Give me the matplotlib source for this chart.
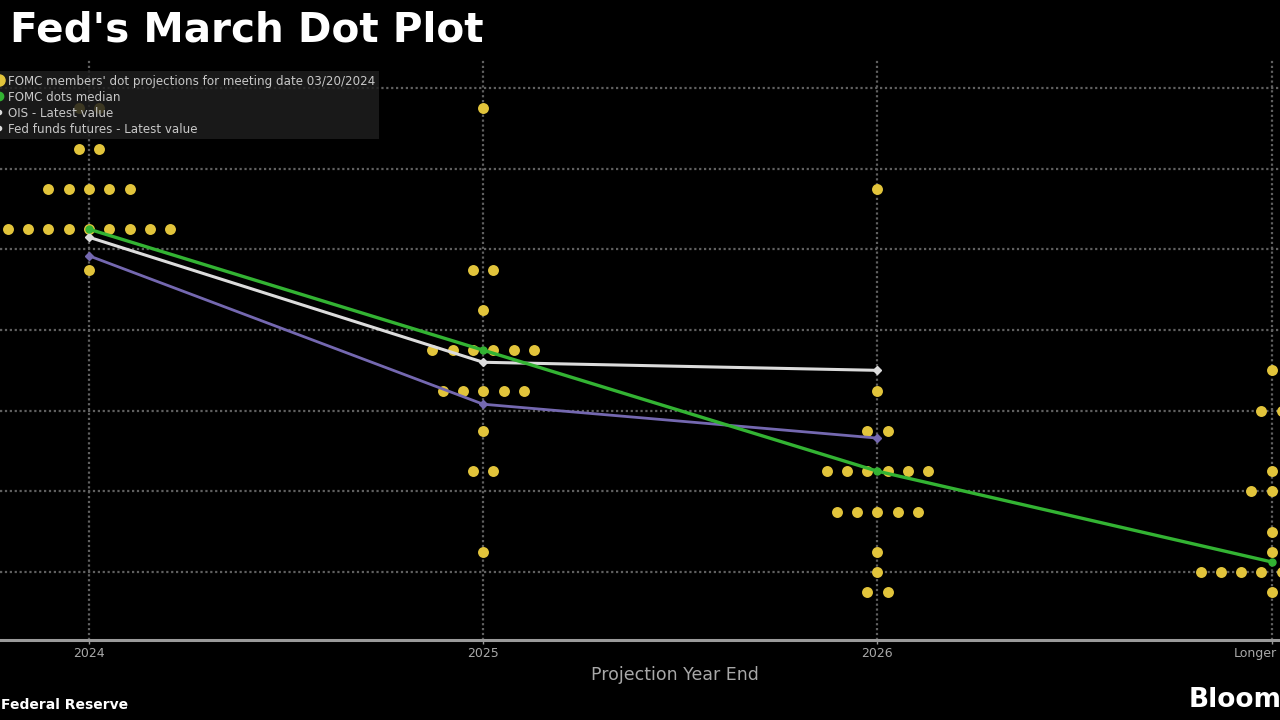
import numpy as np
import matplotlib
matplotlib.use("Agg")
import matplotlib.pyplot as plt
import matplotlib.transforms as mtransforms
from matplotlib.lines import Line2D

# ---- data ----
categories = ["2024", "2025", "2026", "Longer"]

# FOMC dot projections: rate level -> number of participants
dots_2024 = {5.375: 2, 5.125: 2, 4.875: 5, 4.625: 9, 4.375: 1}
dots_2025 = {5.375: 1, 4.375: 2, 4.125: 1, 3.875: 6, 3.625: 5, 3.375: 1, 3.125: 2, 2.625: 1}
dots_2026 = {4.875: 1, 3.625: 1, 3.375: 2, 3.125: 6, 2.875: 5, 2.625: 1, 2.5: 1, 2.375: 2}
dots_longer = {3.75: 1, 3.5: 2, 3.125: 1, 3.0: 3, 2.75: 1, 2.625: 1, 2.5: 8, 2.375: 1}
all_dots = [dots_2024, dots_2025, dots_2026, dots_longer]

median = [4.625, 3.875, 3.125, 2.5625]
ois = [4.575, 3.80, 3.75]
futures = [4.46, 3.54, 3.33]

yellow = "#e2c43b"
green = "#33b333"
white = "#dcdcdc"
purple = "#7468b0"
grey = "#a8a8a8"

fig = plt.figure(figsize=(12.8, 7.2), dpi=100, facecolor="black")
ax = fig.add_axes([0, 80 / 720, 1, 580 / 720], facecolor="black")

step = 0.0515   # horizontal spacing between dots in the same row
for i, d in enumerate(all_dots):
    xs, ys = [], []
    for rate, n in d.items():
        for k in range(n):
            xs.append(i + (k - (n - 1) / 2) * step)
            ys.append(rate)
    ax.scatter(xs, ys, s=62, color=yellow, zorder=3, linewidths=0)

x = np.arange(len(categories))
ax.plot(x[:3], futures, color=purple, lw=2, marker="D", ms=4, zorder=4)
ax.plot(x[:3], ois, color=white, lw=2.2, marker="D", ms=4, zorder=5)
ax.plot(x, median, color=green, lw=2.4, marker="o", ms=5, zorder=6)

ax.set_xlim(-89 / 394.2, (1280 - 89) / 394.2)
ax.set_ylim(2.0785, 5.6736)

# dotted grid
for yv in np.arange(2.5, 5.51, 0.5):
    ax.axhline(yv, color="#606060", lw=1.6, ls=(0, (1, 1.2)), zorder=1)
for xv in x:
    ax.axvline(xv, color="#606060", lw=1.6, ls=(0, (1, 1.2)), zorder=1)

for s in ["top", "left", "right"]:
    ax.spines[s].set_visible(False)
ax.spines["bottom"].set_color("#9a9a9a")
ax.spines["bottom"].set_linewidth(2.2)
ax.set_yticks([])
ax.set_xticks(x)
ax.set_xticklabels(categories, color=grey, fontsize=9)
ax.tick_params(axis="x", colors="#9a9a9a", length=3, width=1, pad=2, labelcolor=grey)
# keep the last label inside the picture
last = ax.get_xticklabels()[-1]
last.set_ha("right")
last.set_transform(last.get_transform() + mtransforms.ScaledTranslation(5 / 100, 0, fig.dpi_scale_trans))

ax.set_xlabel("Projection Year End", color=grey, fontsize=12.5)
ax.xaxis.set_label_coords(675 / 1280, -26 / 580)

handles = [
    Line2D([], [], ls="none", marker="o", color=yellow, ms=8),
    Line2D([], [], ls="none", marker="o", color=green, ms=6),
    Line2D([], [], ls="none", marker="o", color=white, ms=3),
    Line2D([], [], ls="none", marker="o", color=white, ms=3),
]
labels = [
    "FOMC members' dot projections for meeting date 03/20/2024",
    "FOMC dots median",
    "OIS - Latest value",
    "Fed funds futures - Latest value",
]
leg = fig.legend(handles, labels, loc="upper left", bbox_to_anchor=(-0.006, 1 - 71 / 720),
                 fontsize=8.6, frameon=True, facecolor="#1e1e1e", edgecolor="none",
                 framealpha=0.85, handlelength=0.6, handletextpad=0.45,
                 labelspacing=0.25, borderpad=0.3, borderaxespad=0, fancybox=False)
for t in leg.get_texts():
    t.set_color("#c8c8c8")
leg.set_zorder(10)

fig.text(10 / 1280, 1 - 30 / 720, "Fed's March Dot Plot", color="white",
         fontsize=29.2, fontweight="bold", va="center", ha="left")
fig.text(128 / 1280, 1 - 705 / 720, "Federal Reserve", color="white",
         fontsize=10, fontweight="bold", va="center", ha="right")
fig.text(1189 / 1280, 1 - 700 / 720, "Bloomberg", color="white",
         fontsize=19, fontweight="bold", va="center", ha="left")

fig.savefig("out.png", dpi=100, facecolor="black")
